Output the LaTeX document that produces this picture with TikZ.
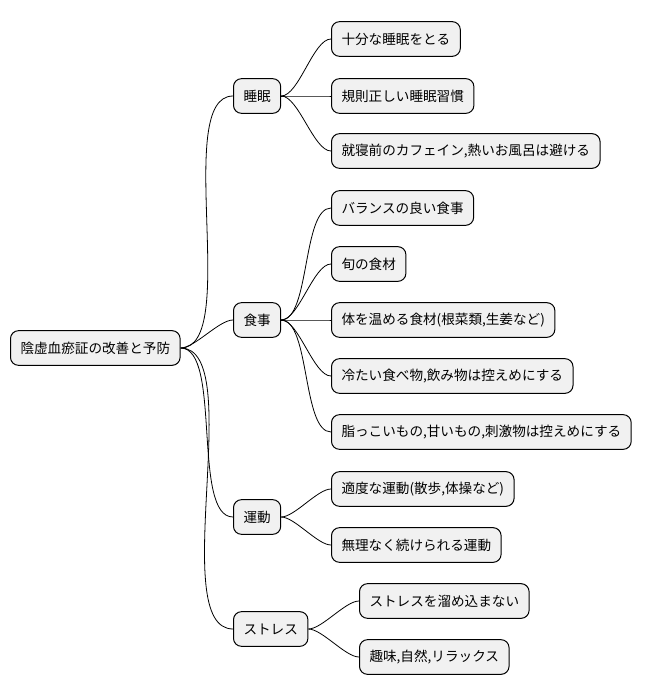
\documentclass[tikz,border=0pt]{standalone}
\usepackage{fontspec}
\setmainfont{Noto Sans CJK JP}
\definecolor{boxfill}{RGB}{241, 241, 241}

\begin{document}
\begin{tikzpicture}[
    x=0.75pt, y=-0.75pt,
    topic/.style={rectangle, draw, rounded corners=6pt, fill=boxfill, line width=0.75pt, anchor=west, minimum height=26pt, inner xsep=7.5pt, font=\fontsize{10.2}{12}\selectfont},
    link/.style={line width=0.6pt, out=0, in=180, looseness=0.6}
]
    \useasboundingbox (0,0) rectangle (651,696);
    \node[topic] (root) at (10,348) {陰虚血瘀証の改善と予防};

    \node[topic] (sleep) at (233,96) {睡眠};
    \node[topic] (food) at (233,320) {食事};
    \node[topic] (move) at (233,517) {運動};
    \node[topic] (stress) at (233,629) {ストレス};

    \node[topic] (s1) at (331,39) {十分な睡眠をとる};
    \node[topic] (s2) at (331,96) {規則正しい睡眠習慣};
    \node[topic] (s3) at (331,151) {就寝前のカフェイン,熱いお風呂は避ける};

    \node[topic] (f1) at (331,208) {バランスの良い食事};
    \node[topic] (f2) at (331,264) {旬の食材};
    \node[topic] (f3) at (331,320) {体を温める食材(根菜類,生姜など)};
    \node[topic] (f4) at (331,376) {冷たい食べ物,飲み物は控えめにする};
    \node[topic] (f5) at (331,432) {脂っこいもの,甘いもの,刺激物は控えめにする};

    \node[topic] (m1) at (331,489) {適度な運動(散歩,体操など)};
    \node[topic] (m2) at (331,545) {無理なく続けられる運動};

    \node[topic] (t1) at (359,601) {ストレスを溜め込まない};
    \node[topic] (t2) at (359,657) {趣味,自然,リラックス};

    \foreach \c in {sleep, food, move, stress}
        \draw[link] (root.east) to (\c.west);
    \foreach \c in {s1, s2, s3}
        \draw[link] (sleep.east) to (\c.west);
    \foreach \c in {f1, f2, f3, f4, f5}
        \draw[link] (food.east) to (\c.west);
    \foreach \c in {m1, m2}
        \draw[link] (move.east) to (\c.west);
    \foreach \c in {t1, t2}
        \draw[link] (stress.east) to (\c.west);
\end{tikzpicture}
\end{document}
